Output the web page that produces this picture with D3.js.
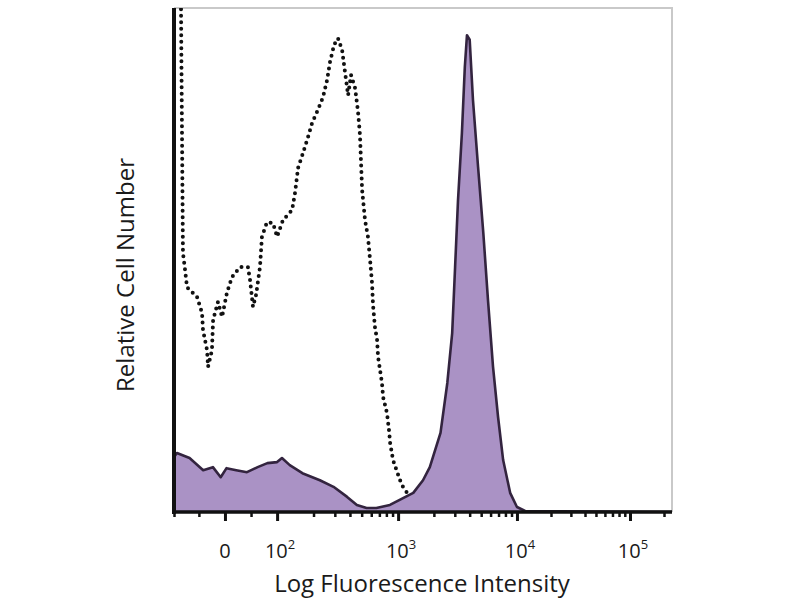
<!DOCTYPE html>
<html>
<head>
<meta charset="utf-8">
<script src="https://cdn.jsdelivr.net/npm/d3@7"></script>
<style>
  body { margin: 0; background: #fff; }
  svg { display: block; }
</style>
</head>
<body>
<div id="chart"></div>
<script>
// histogram, x in display channels (0-256), y as % of max
const stainedCh  = [0, 1.5, 8, 15, 20, 24, 27, 32, 37.5, 43, 48, 53, 55.5, 59.5, 66, 75, 82, 89, 94, 99, 104, 111, 118, 123, 128, 131.5, 137, 140.5, 143, 144.5, 146, 148, 149.5, 150.6, 152, 153.7, 156.3, 159, 161.4, 164, 166.6, 169.2, 172.8, 176.3, 180.5, 256];
const stainedVal = [10.9, 11.7, 10.7, 8.3, 8.9, 6.9, 8.7, 8.3, 7.9, 8.9, 9.7, 9.9, 10.7, 9.3, 7.7, 6.3, 5.0, 3.0, 1.4, 0.8, 0.8, 1.4, 2.8, 3.8, 6.3, 8.9, 15.7, 25.6, 35.5, 48.6, 61.9, 75.2, 88.3, 94.6, 93.7, 81.7, 68.5, 55.4, 42.1, 28.8, 18.8, 10.3, 3.8, 1.0, 0.2, 0];

const isoCh  = [1, 3.6, 4.1, 4.6, 5.7, 6.7, 11.8, 14.4, 14.9, 17, 17.5, 19.5, 20.1, 22.6, 24.7, 27.2, 29.8, 33.9, 38, 39.1, 40.6, 42.2, 44.2, 45.2, 47.8, 50.9, 53, 56, 60.7, 62.2, 63.8, 66.3, 68.9, 71, 74, 76.6, 78.7, 80.2, 82.3, 84.3, 86.4, 87.9, 89.5, 91, 93.1, 94.6, 95.6, 96.7, 98.2, 99.7, 100.8, 101.8, 102.3, 103.3, 104.4, 104.9, 105.9, 106.9, 107.5, 109.5, 110.5, 111.1, 112.6, 116.2, 117.7, 121.3, 126.5, 131.6];
const isoVal = [110, 100, 75.8, 51.4, 48.0, 44.6, 42.7, 39.5, 36.1, 32.1, 28.8, 32.1, 38.1, 41.7, 38.7, 43.5, 46.6, 48.6, 48.6, 46.0, 40.7, 43.1, 48.6, 54.6, 57.5, 57.3, 54.6, 57.9, 59.9, 63.3, 68.3, 71.2, 74.4, 77.2, 79.8, 82.3, 85.7, 89.3, 92.7, 94.0, 91.7, 87.3, 82.7, 86.7, 84.1, 79.4, 74.8, 63.9, 57.9, 54.6, 50.0, 45.4, 41.1, 36.7, 34.1, 30.8, 28.2, 25.6, 22.8, 19.6, 16.3, 13.7, 10.3, 6.3, 5.0, 3.0, 0.8, 0];

// decade ticks (biexponential axis), channel position of each
const tickCh   = [26.2, 53, 115.2, 176.3, 234.4];
const tickBase = ["0", "10", "10", "10", "10"];
const tickExp  = ["", "2", "3", "4", "5"];

const W = 800, H = 600;
const plot = { left: 174, right: 672, top: 8, bottom: 512 };
const font = "'Open Sans', sans-serif";

const svg = d3.select("#chart").append("svg")
    .attr("width", W)
    .attr("height", H);

const x = d3.scaleLinear().domain([0, 256]).range([plot.left, plot.right]);
const y = d3.scaleLinear().domain([0, 100]).range([plot.bottom, plot.top]);

svg.append("clipPath").attr("id", "clip")
  .append("rect")
    .attr("x", plot.left).attr("y", plot.top)
    .attr("width", plot.right - plot.left)
    .attr("height", plot.bottom - plot.top);

// light frame on top and right
svg.append("path")
    .attr("d", `M${plot.left},${plot.top}H${plot.right}V${plot.bottom}`)
    .attr("fill", "none")
    .attr("stroke", "#c9c9c9")
    .attr("stroke-width", 2);

const g = svg.append("g").attr("clip-path", "url(#clip)");

// isotype control, dotted
const isoLine = d3.line()
    .x((d, i) => x(isoCh[i]))
    .y(d => y(d));

g.append("path")
    .datum(isoVal)
    .attr("d", isoLine)
    .attr("fill", "none")
    .attr("stroke", "#111")
    .attr("stroke-width", 4)
    .attr("stroke-linecap", "round")
    .attr("stroke-dasharray", "0 6.5");

// stained sample, filled
const area = d3.area()
    .x((d, i) => x(stainedCh[i]))
    .y0(y(0))
    .y1(d => y(d));

const line = d3.line()
    .x((d, i) => x(stainedCh[i]))
    .y(d => y(d));

g.append("path")
    .datum(stainedVal)
    .attr("d", area)
    .attr("fill", "#aa92c5");

g.append("path")
    .datum(stainedVal)
    .attr("d", line)
    .attr("fill", "none")
    .attr("stroke", "#33243f")
    .attr("stroke-width", 2.6)
    .attr("stroke-linejoin", "round");

// minor ticks: log steps within each decade, a few in the linear part
const minorCh = [0, 12.8, 39.6];
for (let k = 1; k < tickCh.length; k++) {
    const step = k < tickCh.length - 1 ? tickCh[k + 1] - tickCh[k] : tickCh[k] - tickCh[k - 1];
    for (let m = 2; m <= 9; m++) {
        const c = tickCh[k] + step * Math.log10(m);
        if (c <= 256) minorCh.push(c);
    }
}

svg.append("g")
    .attr("transform", `translate(0,${plot.bottom})`)
    .call(d3.axisBottom(x).tickValues(minorCh).tickSize(5).tickFormat(""))
    .call(a => a.select(".domain").remove())
    .selectAll("line").attr("stroke", "#111").attr("stroke-width", 2.5);

svg.append("g")
    .attr("transform", `translate(0,${plot.bottom})`)
    .call(d3.axisBottom(x).tickValues(tickCh).tickSize(9).tickFormat(""))
    .call(a => a.select(".domain").remove())
    .selectAll("line").attr("stroke", "#111").attr("stroke-width", 3);

// axis lines
svg.append("line")
    .attr("x1", plot.left).attr("x2", plot.right)
    .attr("y1", plot.bottom).attr("y2", plot.bottom)
    .attr("stroke", "#111").attr("stroke-width", 3.5);

svg.append("line")
    .attr("x1", plot.left).attr("x2", plot.left)
    .attr("y1", plot.top).attr("y2", plot.bottom + 2)
    .attr("stroke", "#111").attr("stroke-width", 4);

// tick labels with superscripts
const labels = svg.append("g")
    .attr("font-family", font)
    .attr("fill", "#1a1a1a");

tickCh.forEach((c, i) => {
    const t = labels.append("text")
        .attr("x", x(c) + (tickExp[i] ? 3 : 0))
        .attr("y", 558)
        .attr("text-anchor", "middle")
        .attr("font-size", "20px");
    t.append("tspan").text(tickBase[i]);
    if (tickExp[i]) {
        t.append("tspan")
            .attr("dy", -9)
            .attr("font-size", "13px")
            .text(tickExp[i]);
    }
});

svg.append("text")
    .attr("x", 422)
    .attr("y", 592)
    .attr("text-anchor", "middle")
    .attr("font-family", font)
    .attr("font-size", "24px")
    .attr("fill", "#1a1a1a")
    .text("Log Fluorescence Intensity");

svg.append("text")
    .attr("transform", "translate(134,275) rotate(-90)")
    .attr("text-anchor", "middle")
    .attr("font-family", font)
    .attr("font-size", "24px")
    .attr("fill", "#1a1a1a")
    .text("Relative Cell Number");
</script>
</body>
</html>
